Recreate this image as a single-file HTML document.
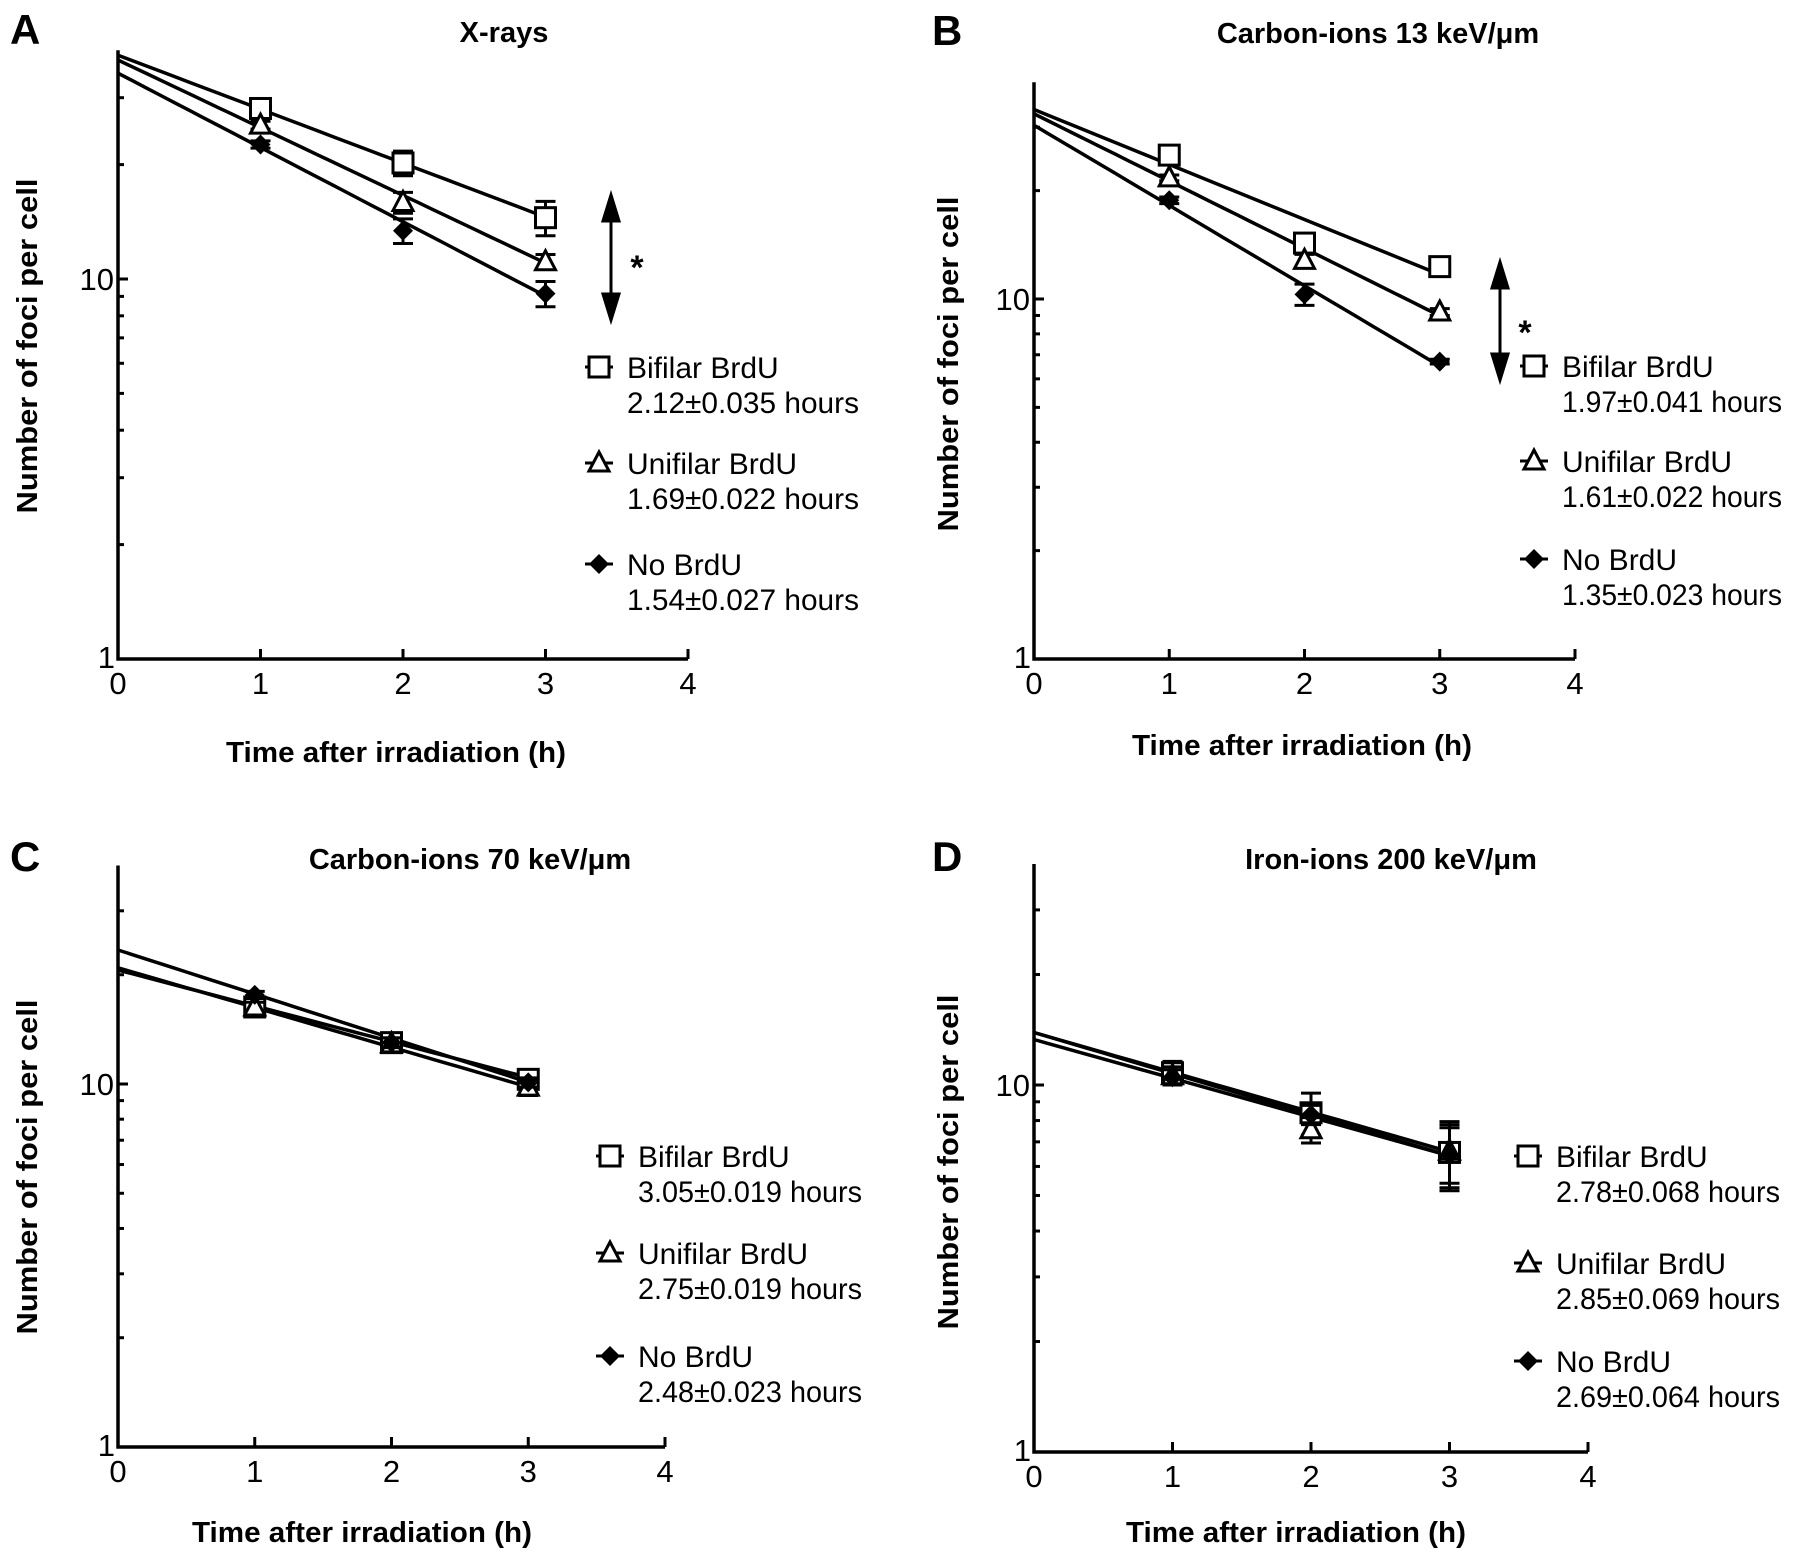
<!DOCTYPE html>
<html><head><meta charset="utf-8"><style>
html,body{margin:0;padding:0;background:#fff;}
svg{display:block;font-family:"Liberation Sans",Arial,sans-serif;}
</style></head><body>
<svg id="fig" width="1795" height="1564" viewBox="0 0 1795 1564" xmlns="http://www.w3.org/2000/svg"></svg>
<script>
// shared x data
const timePoints = [1, 2, 3];
const xTicks = [0, 1, 2, 3, 4];
const seriesNames = ["Bifilar BrdU", "Unifilar BrdU", "No BrdU"];

// Panel A (X-rays)
const aBif = [28.1, 20.2, 14.5];
const aUni = [25.4, 15.9, 11.1];
const aNo = [22.6, 13.4, 9.15];
const aErr = [[0.8, 1.5, 1.5], [0.6, 1.0, 0.5], [0.5, 1.0, 0.7]];
const aIntercepts = [38.8, 37.7, 34.8];
const aHalfLives = ["2.12±0.035 hours", "1.69±0.022 hours", "1.54±0.027 hours"];
const aHL = [2.12, 1.69, 1.54];

// Panel B (Carbon 13)
const bBif = [25.1, 14.3, 12.3];
const bUni = [21.7, 12.8, 9.2];
const bNo = [18.8, 10.3, 6.7];
const bErr = [[0.4, 0.4, 0.3], [0.4, 0.5, 0.2], [0.4, 0.7, 0.1]];
const bIntercepts = [33.6, 32.7, 30.4];
const bHalfLives = ["1.97±0.041 hours", "1.61±0.022 hours", "1.35±0.023 hours"];
const bHL = [1.97, 1.61, 1.35];

// Panel C (Carbon 70)
const cBif = [16.3, 13.0, 10.3];
const cUni = [16.3, 12.9, 9.8];
const cNo = [17.6, 13.0, 10.1];
const cErr = [[0.6, 0.5, 0.5], [0.5, 0.5, 0.5], [0.4, 0.4, 0.3]];
const cIntercepts = [20.6, 20.9, 23.4];
const cHalfLives = ["3.05±0.019 hours", "2.75±0.019 hours", "2.48±0.023 hours"];
const cHL = [3.05, 2.75, 2.48];

// Panel D (Iron 200)
const dBif = [10.8, 8.4, 6.55];
const dUni = [10.6, 7.55, 6.6];
const dNo = [10.5, 8.3, 6.45];
const dErr = [[0.8, 1.1, 1.4], [0.6, 0.6, 1.2], [0.5, 0.5, 1.2]];
const dIntercepts = [13.9, 13.3, 13.9];
const dHalfLives = ["2.78±0.068 hours", "2.85±0.069 hours", "2.69±0.064 hours"];
const dHL = [2.78, 2.85, 2.69];

const NS = "http://www.w3.org/2000/svg";
const svg = document.getElementById("fig");
function mk(tag, attrs, parent, text) {
  const e = document.createElementNS(NS, tag);
  for (const k in attrs) e.setAttribute(k, attrs[k]);
  if (text !== undefined) e.textContent = text;
  (parent || svg).appendChild(e);
  return e;
}

function marker(g, kind, cx, cy) {
  let m;
  if (kind === 0) m = mk("rect", {x: cx - 10, y: cy - 10, width: 20, height: 20, fill: "#fff", stroke: "#000", "stroke-width": 3}, g);
  else if (kind === 1) m = mk("polygon", {points: `${cx},${cy - 11} ${cx + 10},${cy + 8} ${cx - 10},${cy + 8}`, fill: "#fff", stroke: "#000", "stroke-width": 3}, g);
  else m = mk("polygon", {points: `${cx},${cy - 10} ${cx + 10},${cy} ${cx},${cy + 10} ${cx - 10},${cy}`, fill: "#000"}, g);
  return m;
}

function panel(p) {
  const g = mk("g", {});
  
  
  const xs = v => p.x0 + (p.x4 - p.x0) * v / 4;
  const ys = v => p.y1 - (p.y1 - p.y10) * Math.log10(v);
  const yTop = ys(40);

  const letter = mk("text", {x: p.lx, y: p.ty + 2, "font-size": 42, "font-weight": "bold"}, g, p.letter);
  
  
  const title = mk("text", {x: p.tx, y: p.ty, "font-size": 29, "font-weight": "bold", "text-anchor": "middle"}, g, p.title);
  
  

  const ax = mk("path", {d: `M${p.x0},${yTop} V${p.y1} H${p.x4}`, fill: "none", stroke: "#000", "stroke-width": 3.5}, g);
  
  
  xTicks.forEach(t => {
    const x = xs(t);
    mk("line", {x1: x, y1: p.y1, x2: x, y2: p.y1 - 10, stroke: "#000", "stroke-width": 3}, g);
    const lb = mk("text", {x: x, y: p.y1 + 35, "font-size": 31, "text-anchor": "middle"}, g, String(t));
    
    
  });
  [2,3,4,5,6,7,8,9,10,20,30].forEach(v => {
    const y = ys(v);
    mk("line", {x1: p.x0, y1: y, x2: p.x0 + (v === 10 ? 10 : 6), y2: y, stroke: "#000", "stroke-width": 3}, g);
  });
  const l10 = mk("text", {x: p.x0 - 4, y: ys(10) + 11, "font-size": 31, "text-anchor": "end"}, g, "10");
  
  
  const l1 = mk("text", {x: p.x0 - 3, y: p.y1 + 9, "font-size": 31, "text-anchor": "end"}, g, "1");
  
  

  const xt = mk("text", {x: p.xtx, y: p.xty, "font-size": 29, "font-weight": "bold", "text-anchor": "middle", textLength: 340, lengthAdjust: "spacingAndGlyphs"}, g, "Time after irradiation (h)");
  
  
  const yt = mk("text", {x: 0, y: 0, "font-size": 29, "font-weight": "bold", "text-anchor": "middle", textLength: 335, lengthAdjust: "spacingAndGlyphs", transform: `translate(${p.ytx},${p.yty}) rotate(-90)`}, g, "Number of  foci per cell");
  
  

  p.series.forEach((s, i) => {
    const pts = [];
    for (let k = 0; k <= 30; k++) {
      const t = 3 * k / 30;
      pts.push(xs(t).toFixed(1) + "," + ys(p.inter[i] * Math.pow(2, -t / p.hl[i])).toFixed(1));
    }
    const fl = mk("polyline", {points: pts.join(" "), fill: "none", stroke: "#000", "stroke-width": 3.5}, g);
    
    
  });
  p.series.forEach((s, i) => {
    s.forEach((v, j) => {
      const x = xs(timePoints[j]);
      const e = p.err[i][j];
      const yH = ys(v + e), yL = ys(v - e);
      const eb = mk("path", {d: `M${x},${yH} V${yL} M${x - 10},${yH} H${x + 10} M${x - 10},${yL} H${x + 10}`, stroke: "#000", "stroke-width": 3, fill: "none"}, g);
      
      
      const m = marker(g, i, x, ys(v));
      
      
    });
  });
  p.series.forEach((s, i) => {
    const ly = p.legY[i];
    const lg = mk("g", {}, g);
    
    
    mk("line", {x1: p.legX - 14, y1: ly - 11, x2: p.legX + 14, y2: ly - 11, stroke: "#000", "stroke-width": 3}, lg);
    marker(lg, i, p.legX, ly - 11);
    mk("text", {x: p.legX + 28, y: ly, "font-size": 30}, lg, seriesNames[i]);
    mk("text", {x: p.legX + 28, y: ly + 35, "font-size": 30, textLength: p.hlw, lengthAdjust: "spacingAndGlyphs"}, lg, p.hlText[i]);
  });
  if (p.arrow) {
    const a = p.arrow;
    const ar = mk("path", {d: `M${a.x},${a.y1 + 20} V${a.y2 - 20} M${a.x - 8},${a.y1 + 26} L${a.x},${a.y1} L${a.x + 8},${a.y1 + 26} Z M${a.x - 8},${a.y2 - 26} L${a.x},${a.y2} L${a.x + 8},${a.y2 - 26} Z`, stroke: "#000", "stroke-width": 3, fill: "#000"}, g);
    
    
    const st = mk("text", {x: a.sx, y: a.sy + 16, "font-size": 34, "font-weight": "bold", "text-anchor": "middle"}, g, "*");
    
    
  }
}

panel({letter: "A", title: "X-rays", lx: 10, tx: 504, ty: 42, x0: 118, x4: 688, y1: 659, y10: 279,
  series: [aBif, aUni, aNo], err: aErr, inter: aIntercepts, hl: aHL, hlText: aHalfLives, hlw: 232,
  legX: 599, legY: [378, 474, 575], xtx: 396, xty: 762, ytx: 37, yty: 346,
  arrow: {x: 611, y1: 195, y2: 320, sx: 637, sy: 263}});
panel({letter: "B", title: "Carbon-ions 13 keV/μm", lx: 932, tx: 1378, ty: 43, x0: 1034, x4: 1575, y1: 659, y10: 299,
  series: [bBif, bUni, bNo], err: bErr, inter: bIntercepts, hl: bHL, hlText: bHalfLives, hlw: 220,
  legX: 1534, legY: [377, 472, 570], xtx: 1302, xty: 755, ytx: 958, yty: 364,
  arrow: {x: 1500, y1: 262, y2: 380, sx: 1525, sy: 328}});
panel({letter: "C", title: "Carbon-ions 70 keV/μm", lx: 10, tx: 470, ty: 869, x0: 118, x4: 665, y1: 1447, y10: 1084,
  series: [cBif, cUni, cNo], err: cErr, inter: cIntercepts, hl: cHL, hlText: cHalfLives, hlw: 224,
  legX: 610, legY: [1167, 1264, 1367], xtx: 362, xty: 1542, ytx: 37, yty: 1167});
panel({letter: "D", title: "Iron-ions 200 keV/μm", lx: 932, tx: 1391, ty: 869, x0: 1034, x4: 1588, y1: 1452, y10: 1085,
  series: [dBif, dUni, dNo], err: dErr, inter: dIntercepts, hl: dHL, hlText: dHalfLives, hlw: 224,
  legX: 1528, legY: [1167, 1274, 1372], xtx: 1296, xty: 1542, ytx: 958, yty: 1162});
</script>
</body></html>
